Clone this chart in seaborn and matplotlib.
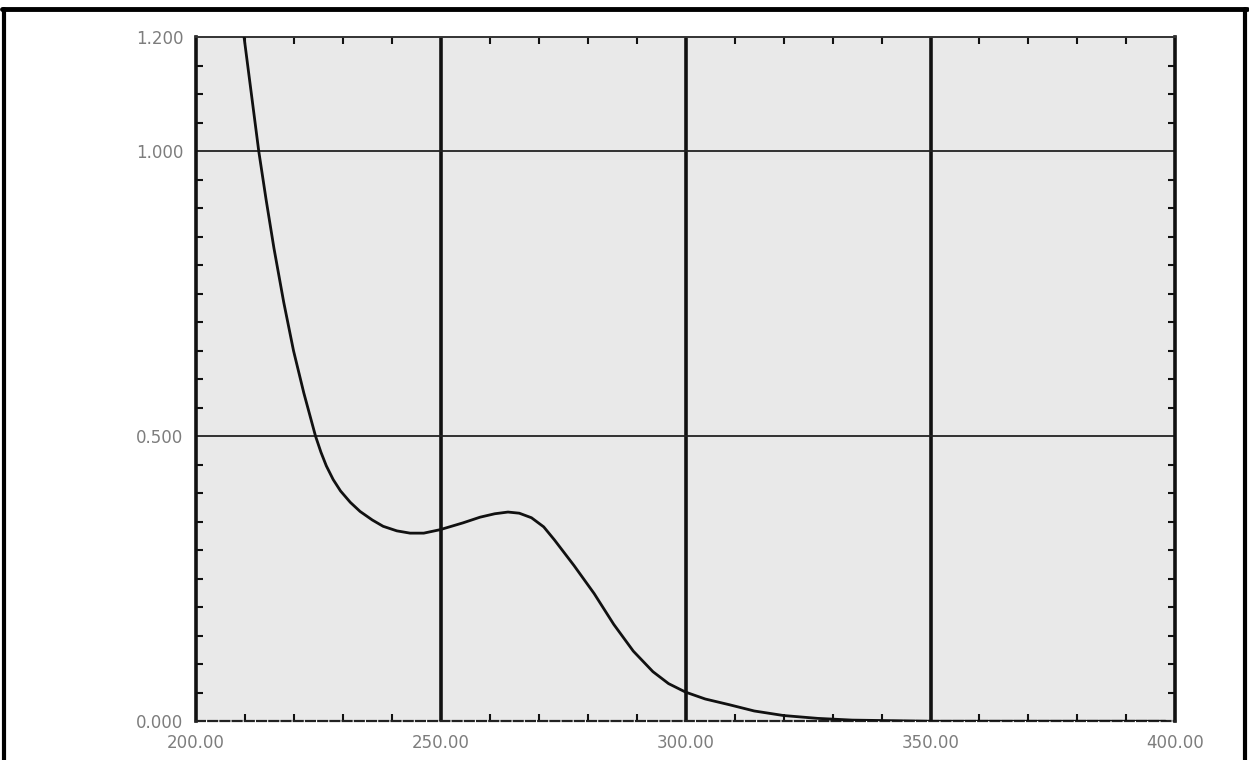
import matplotlib
matplotlib.use("Agg")
import matplotlib.pyplot as plt
from matplotlib.lines import Line2D
from matplotlib.ticker import FormatStrFormatter, MultipleLocator
import pandas as pd
import seaborn as sns

# spectrum: wavelength (nm) and absorbance
wavelength = [208, 209.8, 211.3, 212.8, 214.3, 215.9, 217.9, 219.9, 222.0, 224.4, 225.5,
              226.6, 228, 229.5, 231.5, 233.5, 236, 238.2, 241, 243.7, 246.5, 249.8,
              254.5, 258, 261, 263.7, 266, 268.5, 271, 273.2, 277.2, 281.3, 285.3,
              289.3, 293.3, 296.5, 300, 304, 308.9, 314, 320, 327, 334, 342, 350, 360,
              370, 380, 390, 398]
absorbance = [1.33, 1.20, 1.10, 1.00, 0.915, 0.83, 0.735, 0.650, 0.576, 0.500, 0.472,
              0.448, 0.424, 0.404, 0.384, 0.368, 0.353, 0.342, 0.334, 0.330, 0.330, 0.336,
              0.348, 0.358, 0.364, 0.367, 0.365, 0.357, 0.341, 0.318, 0.273, 0.224, 0.170,
              0.123, 0.087, 0.066, 0.051, 0.039, 0.029, 0.018, 0.010, 0.005, 0.002, 0.001,
              0.0, 0.0, 0.0, 0.0, 0.0, 0.0]

x_ticks = [200, 250, 300, 350, 400]
y_ticks = [0.0, 0.5, 1.0, 1.2]

INK = "#111111"
LABEL_GREY = "#7d7d7d"


def main() -> None:
    sns.set_theme(style="ticks")
    spectrum = pd.DataFrame({"wavelength": wavelength, "absorbance": absorbance})

    fig = plt.figure(figsize=(12.49, 7.6), dpi=100, facecolor="white")
    ax = fig.add_axes([0.157, 0.051, 0.784, 0.900])
    ax.set_facecolor("#e9e9e9")

    # grid lines like the instrument printout
    for xv in x_ticks[1:-1]:
        ax.axvline(xv, color=INK, linewidth=2.6, zorder=1)
    for yv in [0.5, 1.0]:
        ax.axhline(yv, color="#222222", linewidth=1.3, zorder=1)

    sns.lineplot(data=spectrum, x="wavelength", y="absorbance", color=INK,
                 linewidth=2.0, sort=True, ax=ax, zorder=3,
                 solid_joinstyle="round", solid_capstyle="round")

    ax.set_xlim(200, 400)
    ax.set_ylim(0, 1.2)
    ax.set_xticks(x_ticks)
    ax.set_yticks(y_ticks)
    ax.xaxis.set_major_formatter(FormatStrFormatter("%.2f"))
    ax.yaxis.set_major_formatter(FormatStrFormatter("%.3f"))
    ax.xaxis.set_minor_locator(MultipleLocator(10))
    ax.yaxis.set_minor_locator(MultipleLocator(0.05))
    ax.tick_params(which="major", length=0, pad=9, labelsize=12, labelcolor=LABEL_GREY)
    ax.tick_params(which="minor", direction="in", length=5, width=1.5, color=INK,
                   top=True, right=True)
    ax.set_xlabel("")
    ax.set_ylabel("")

    for side in ["left", "right"]:
        ax.spines[side].set_linewidth(2.6)
        ax.spines[side].set_color(INK)
    ax.spines["top"].set_linewidth(1.4)
    ax.spines["top"].set_color("#333333")
    ax.spines["bottom"].set_linewidth(1.6)
    ax.spines["bottom"].set_color("#222222")
    ax.spines["bottom"].set_linestyle((0, (4, 1.5)))

    # scan frame
    fig.add_artist(Line2D([0.002, 0.998], [0.988, 0.988], color="black", linewidth=3.5))
    fig.add_artist(Line2D([0.003, 0.003], [0.0, 0.988], color="black", linewidth=3.0))
    fig.add_artist(Line2D([0.997, 0.997], [0.0, 0.988], color="black", linewidth=3.0))

    fig.savefig("out.png", dpi=100, facecolor="white")
    plt.close(fig)


if __name__ == "__main__":
    main()
